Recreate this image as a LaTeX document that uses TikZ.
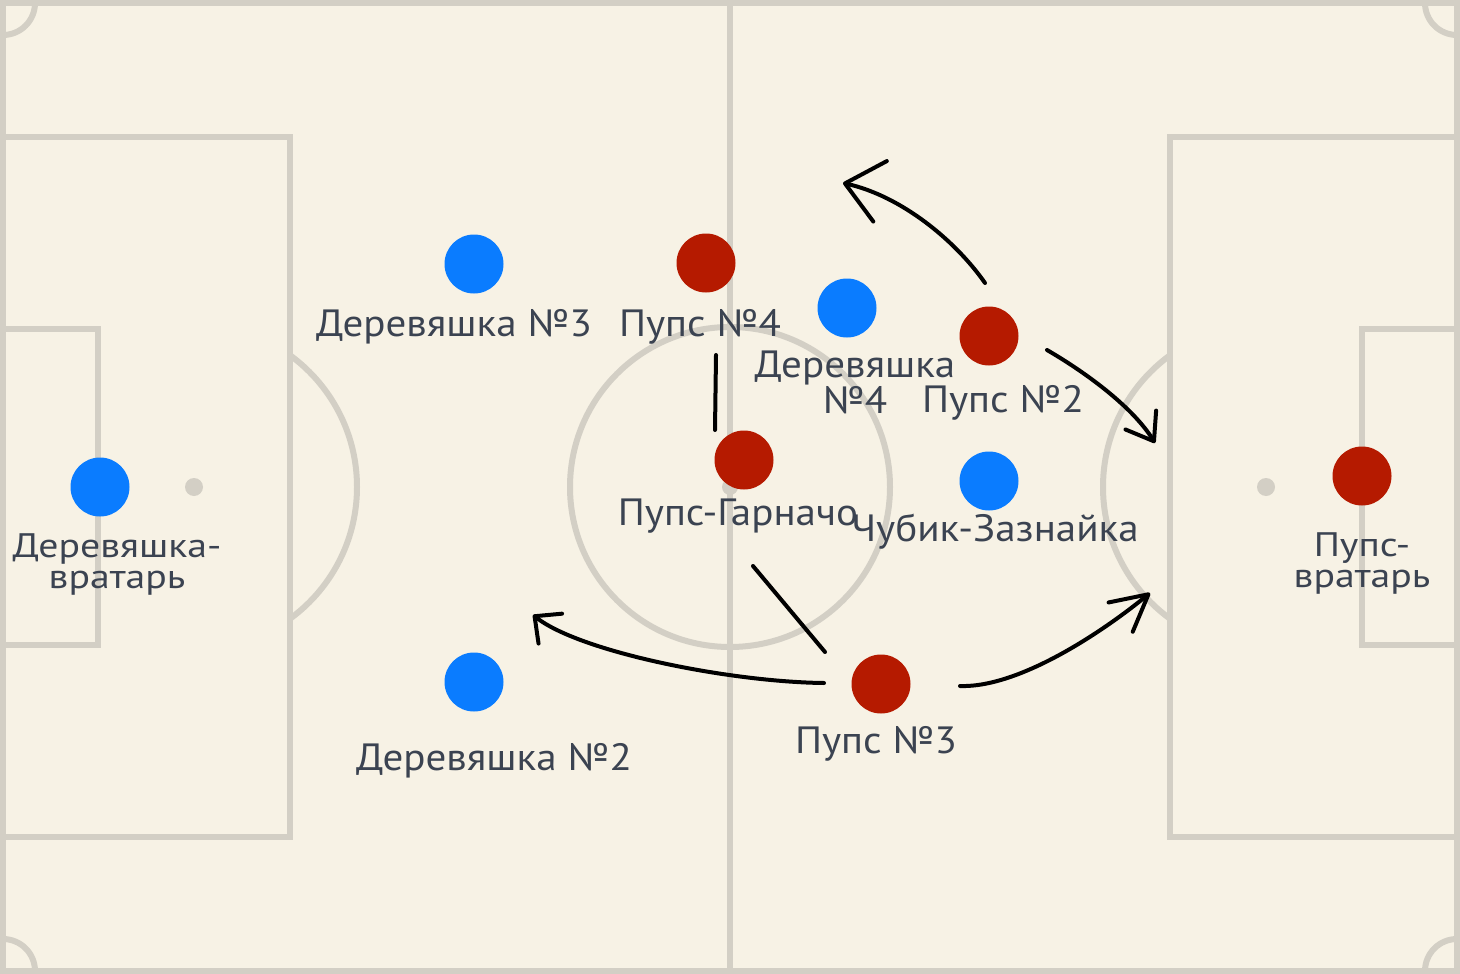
\documentclass[tikz,border=0pt]{standalone}
\usepackage{fontspec}
\setmainfont{PT Sans}[FakeStretch=1.08]
\newfontfamily\gkfam{PT Sans}[FakeStretch=1.17]
\usetikzlibrary{arrows.meta}
\definecolor{bgc}{HTML}{F7F2E5}
\definecolor{linec}{HTML}{D3CFC5}
\definecolor{bluec}{HTML}{0A7CFF}
\definecolor{redc}{HTML}{B51A00}
\definecolor{textc}{HTML}{3B4351}
\newcommand\labfont{\fontsize{38}{38}\selectfont}
\newcommand\gkfont{\gkfam\fontsize{34}{34}\selectfont}
\tikzset{
  pitch/.style={draw=linec, line width=6pt},
  spot/.style={fill=linec, draw=none},
  player/.style={circle, draw=none, minimum size=59pt, inner sep=0pt},
  blueplayer/.style={player, fill=bluec},
  redplayer/.style={player, fill=redc},
  lab/.style={font=\labfont, text=textc, inner sep=0pt, anchor=base},
  gklab/.style={font=\gkfont, text=textc, inner sep=0pt, anchor=base},
  move/.style={draw=black, line width=4pt, line cap=round, line join=round},
}
\begin{document}
\begin{tikzpicture}[x=1pt,y=-1pt]
\useasboundingbox (0,0) rectangle (1460,974);
\fill[bgc] (0,0) rectangle (1460,974);
% pitch
\draw[pitch] (3,3) rectangle (1457,971);
\draw[pitch] (730,3) -- (730,971);
\draw[pitch] (3,137) rectangle (290,837);
\draw[pitch] (1170,137) rectangle (1457,837);
\draw[pitch] (3,329) rectangle (98,645);
\draw[pitch] (1362,329) rectangle (1457,645);
\draw[pitch] (730,487) circle[radius=160];
\begin{scope}
  \clip (3,3) rectangle (1457,971);
  \draw[pitch] (3,3) circle[radius=32];
  \draw[pitch] (1457,3) circle[radius=32];
  \draw[pitch] (3,971) circle[radius=32];
  \draw[pitch] (1457,971) circle[radius=32];
\end{scope}
\begin{scope}
  \clip (290,0) rectangle (420,974);
  \draw[pitch] (194,487) circle[radius=163];
\end{scope}
\begin{scope}
  \clip (1040,0) rectangle (1170,974);
  \draw[pitch] (1266,487) circle[radius=163];
\end{scope}
\fill[spot] (194,487) circle[radius=9];
\fill[spot] (1266,487) circle[radius=9];
\fill[spot] (730,487) circle[radius=8];
% players
\node[blueplayer] (dGK) at (100,487) {};
\node[blueplayer] (d3) at (474,264) {};
\node[blueplayer] (d4) at (847,308) {};
\node[blueplayer] (dCh) at (989,481) {};
\node[blueplayer] (d2) at (474,682) {};
\node[redplayer] (p4) at (706,263) {};
\node[redplayer] (p2) at (989,336) {};
\node[redplayer] (pG) at (744,460) {};
\node[redplayer] (p3) at (881,684) {};
\node[redplayer] (pGK) at (1362,476) {};
% labels
\node[lab] (td3) at (454,336) {Деревяшка №3};
\node[lab] (tp4) at (700,336) {Пупс №4};
\node[lab] (td4a) at (855,377) {Деревяшка};
\node[lab] (td4b) at (855,413) {№4};
\node[lab] (tp2) at (1003,412) {Пупс №2};
\node[lab] (tpG) at (738,525) {Пупс-Гарначо};
\node[lab] (tdCh) at (995,541) {Чубик-Зазнайка};
\node[lab] (tp3) at (876,753) {Пупс №3};
\node[lab] (td2) at (494,770) {Деревяшка №2};
\node[gklab] (tdGKa) at (117,557) {Деревяшка-};
\node[gklab] (tdGKb) at (117,588) {вратарь};
\node[gklab] (tpGKa) at (1362,556) {Пупс-};
\node[gklab] (tpGKb) at (1362,587) {вратарь};
% movement coordinates
\coordinate (l1a) at (716,355);
\coordinate (l1b) at (715,430);
\coordinate (l2a) at (753,566);
\coordinate (l2b) at (825,652);
\coordinate (a2s) at (985,283);
\coordinate (a2e) at (843,183);
\coordinate (a3s) at (1047,350);
\coordinate (a3e) at (1155,443);
\coordinate (a5s) at (824,683);
\coordinate (a5e) at (533,615);
\coordinate (a6s) at (960,686);
\coordinate (a6e) at (1150,593);
% movements
\draw[move] (l1a) -- (l1b);
\draw[move] (l2a) -- (l2b);
\draw[move, -{Straight Barb[length=36pt, width=62pt, round]}]
  (a2s) .. controls (955,240) and (901,196) .. (a2e);
\draw[move, -{Straight Barb[length=25pt, width=36pt, round]}]
  (a3s) .. controls (1090,375) and (1134,409) .. (a3e);
\draw[move, -{Straight Barb[length=20pt, width=38pt, round]}]
  (a5s) .. controls (730,682) and (580,652) .. (a5e);
\draw[move, -{Straight Barb[length=36pt, width=38pt, round]}]
  (a6s) .. controls (1020,688) and (1105,630) .. (a6e);
\end{tikzpicture}
\end{document}
